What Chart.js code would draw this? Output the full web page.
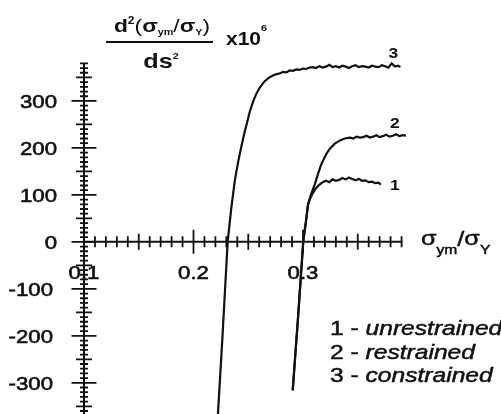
<!DOCTYPE html>
<html>
<head>
<meta charset="utf-8">
<script src="https://cdn.jsdelivr.net/npm/chart.js@4/dist/chart.umd.min.js"></script>
<style>
  body { margin: 0; background: #fff; }
  #chart { display: block; }
</style>
</head>
<body>
<canvas id="chart" width="501" height="414"></canvas>
<script>
// curve 1 - unrestrained
const unrestrainedX = [0.2906, 0.2955, 0.3003, 0.3025, 0.3046, 0.3065, 0.3085, 0.3115, 0.3145, 0.3180, 0.3210, 0.3240, 0.3270, 0.3300,
    0.333, 0.336, 0.339, 0.342, 0.345, 0.348, 0.351, 0.354, 0.357, 0.360, 0.363, 0.366, 0.369, 0.371];
const unrestrainedY = [-316, -160, 3, 40, 80, 92, 102, 113, 121, 127, 130, 127, 133, 130,
    132, 136, 133, 137, 134, 131, 134, 130, 131, 127, 128, 125, 126, 122];

// curve 2 - restrained
const restrainedX = [0.2906, 0.2955, 0.3003, 0.3025, 0.3046, 0.3075, 0.3110, 0.3140, 0.3170, 0.3210, 0.3247, 0.3290, 0.3338, 0.3370, 0.3400,
    0.343, 0.346, 0.349, 0.352, 0.355, 0.358, 0.361, 0.364, 0.367, 0.370, 0.373, 0.376, 0.379, 0.382, 0.385, 0.388, 0.391, 0.394];
const restrainedY = [-316, -160, 3, 40, 80, 102, 124, 147, 167, 186, 199, 209, 216, 219, 221,
    222, 220, 224, 222, 223, 226, 222, 224, 227, 223, 225, 228, 224, 226, 229, 225, 227, 226];

// curve 3 - constrained
const constrainedX = [0.2216, 0.2265, 0.2312, 0.2345, 0.2379, 0.2410, 0.2440, 0.2465, 0.2486, 0.2515, 0.2545, 0.2575, 0.2607, 0.2650, 0.2699, 0.2745,
    0.279, 0.282, 0.285, 0.288, 0.291, 0.294, 0.297, 0.300, 0.303, 0.306, 0.309, 0.312, 0.315, 0.318, 0.321, 0.324, 0.327, 0.330,
    0.333, 0.336, 0.339, 0.342, 0.345, 0.348, 0.351, 0.354, 0.357, 0.360, 0.363, 0.366, 0.369, 0.372, 0.375, 0.378, 0.381, 0.384, 0.387, 0.389];
const constrainedY = [-395, -200, 0, 72, 133, 173, 206, 232, 251, 278, 299, 316, 329, 342, 351, 356,
    359, 362, 361, 365, 364, 367, 366, 369, 368, 371, 372, 370, 374, 371, 373, 377, 372, 374,
    371, 375, 373, 370, 374, 376, 372, 374, 373, 371, 375, 373, 372, 376, 374, 371, 380, 373, 375, 372];

const seriesNames = ['unrestrained', 'restrained', 'constrained'];
const curveNumbers = ['1', '2', '3'];
const yTickLabels = [300, 200, 100, 0, -100, -200, -300];
const xTickLabels = [0.1, 0.2, 0.3];

const SX = 1.2;   // scanned figure is stretched horizontally
const INK = '#111';
const FACE = '"Liberation Sans", Arial, sans-serif';

function toPoints(xs, ys) {
    return xs.map((x, i) => ({ x: x, y: ys[i] }));
}

function textWidth(ctx, text, font) {
    ctx.font = font;
    return ctx.measureText(text).width * SX;
}

// draw a row of text runs: {t, font, dy}
function drawRuns(ctx, runs, x, y, align, heavy) {
    const total = runs.reduce((s, r) => s + textWidth(ctx, r.t, r.font), 0);
    let left = x;
    if (align === 'center') left = x - total / 2;
    else if (align === 'right') left = x - total;
    runs.forEach(r => {
        const w = textWidth(ctx, r.t, r.font);
        ctx.save();
        ctx.font = r.font;
        ctx.translate(left, y + (r.dy || 0));
        ctx.scale(SX, 1);
        ctx.textAlign = 'left';
        ctx.textBaseline = 'alphabetic';
        ctx.fillText(r.t, 0, 0);
        if (heavy) {
            ctx.strokeStyle = INK;
            ctx.lineWidth = heavy;
            ctx.strokeText(r.t, 0, 0);
        }
        ctx.restore();
        left += w;
    });
    return total;
}

const crossAxes = {
    id: 'crossAxes',
    beforeDatasetsDraw(chart) {
        const ctx = chart.ctx;
        const xs = chart.scales.x, ys = chart.scales.y;
        const ox = xs.getPixelForValue(0.1);
        const oy = ys.getPixelForValue(0);
        ctx.save();
        ctx.strokeStyle = INK;
        ctx.lineCap = 'butt';

        ctx.lineWidth = 2;
        ctx.beginPath();
        ctx.moveTo(ox, oy);
        ctx.lineTo(xs.getPixelForValue(0.39) + 1, oy);
        ctx.moveTo(ox, ys.getPixelForValue(381));
        ctx.lineTo(ox, chart.height);
        ctx.stroke();

        ctx.lineWidth = 1.8;
        ctx.beginPath();
        for (let i = 11; i <= 39; i++) {
            const px = xs.getPixelForValue(i / 100);
            const len = i % 10 === 0 ? 12 : (i % 5 === 0 ? 8 : 5.5);
            ctx.moveTo(px, oy - len);
            ctx.lineTo(px, oy + len);
        }
        for (let v = -370; v <= 380; v += 10) {
            const py = ys.getPixelForValue(v);
            const len = v % 100 === 0 ? 12.5 : (v % 50 === 0 ? 8 : 4);
            ctx.moveTo(ox - len, py);
            ctx.lineTo(ox + len, py);
        }
        ctx.stroke();
        ctx.restore();
    },
    afterDraw(chart) {
        const ctx = chart.ctx;
        const xs = chart.scales.x, ys = chart.scales.y;
        const ox = xs.getPixelForValue(0.1);
        const oy = ys.getPixelForValue(0);
        ctx.save();
        ctx.fillStyle = INK;
        const tickFont = '18.5px ' + FACE;

        yTickLabels.forEach(v => {
            const right = v < 0 ? ox - 31 : ox - 27;
            drawRuns(ctx, [{ t: String(v), font: tickFont }], right, ys.getPixelForValue(v) + 6.7, 'right', 0.6);
        });
        xTickLabels.forEach(v => {
            drawRuns(ctx, [{ t: v.toFixed(1), font: tickFont }], xs.getPixelForValue(v), oy + 37.5, 'center', 0.6);
        });

        // x axis title
        const big = '21px ' + FACE;
        const sub = '13px ' + FACE;
        drawRuns(ctx, [
            { t: 'σ', font: big },
            { t: 'ym', font: sub, dy: 9 },
            { t: '/', font: big, dy: 1 },
            { t: 'σ', font: big },
            { t: 'Y', font: sub, dy: 9 }
        ], 421, oy + 3, 'left', 0.5);

        // y axis title (fraction)
        drawRuns(ctx, [
            { t: 'd', font: 'bold 19px ' + FACE },
            { t: '2', font: 'bold 10px ' + FACE, dy: -8 },
            { t: '(', font: '19px ' + FACE },
            { t: 'σ', font: 'bold 19px ' + FACE },
            { t: 'ym', font: 'bold 9px ' + FACE, dy: 3 },
            { t: '/', font: '19px ' + FACE },
            { t: 'σ', font: 'bold 19px ' + FACE },
            { t: 'Y', font: 'bold 9px ' + FACE, dy: 3 },
            { t: ')', font: '19px ' + FACE }
        ], 162, 32, 'center');
        ctx.fillRect(106, 41, 107, 2);
        drawRuns(ctx, [
            { t: 'ds', font: 'bold 21px ' + FACE },
            { t: '2', font: 'bold 9px ' + FACE, dy: -9 }
        ], 161, 68, 'center');
        drawRuns(ctx, [
            { t: 'x10', font: 'bold 17.5px ' + FACE },
            { t: '6', font: 'bold 9px ' + FACE, dy: -14 }
        ], 226, 45, 'left');

        // curve numbers next to the curve ends
        const numOffsets = [[14, 5], [-11, -8], [-7, -9]];
        chart.data.datasets.forEach((ds, i) => {
            const last = ds.data[ds.data.length - 1];
            const px = xs.getPixelForValue(last.x) + numOffsets[i][0];
            const py = ys.getPixelForValue(last.y) + numOffsets[i][1];
            drawRuns(ctx, [{ t: curveNumbers[i], font: 'bold 14.5px ' + FACE }], px, py, 'center');
        });

        // legend text
        const lf = '20.5px ' + FACE;
        const li = 'italic 20.5px ' + FACE;
        seriesNames.forEach((name, i) => {
            drawRuns(ctx, [
                { t: curveNumbers[i] + ' - ', font: lf },
                { t: name, font: li }
            ], 330, 335 + i * 23.5, 'left', 0.5);
        });
        ctx.restore();
    }
};

const lineStyle = {
    borderColor: INK,
    borderWidth: 2.2,
    pointRadius: 0,
    tension: 0,
    fill: false,
    clip: false
};

new Chart(document.getElementById('chart'), {
    type: 'line',
    data: {
        datasets: [
            Object.assign({ label: seriesNames[0], data: toPoints(unrestrainedX, unrestrainedY) }, lineStyle),
            Object.assign({ label: seriesNames[1], data: toPoints(restrainedX, restrainedY) }, lineStyle),
            Object.assign({ label: seriesNames[2], data: toPoints(constrainedX, constrainedY) }, lineStyle)
        ]
    },
    options: {
        responsive: false,
        animation: false,
        layout: { padding: { left: 84, right: 88.5, top: 61, bottom: 3 } },
        plugins: { legend: { display: false }, tooltip: { enabled: false } },
        scales: {
            x: { type: 'linear', min: 0.1, max: 0.4, display: false },
            y: { type: 'linear', min: -360, max: 385, display: false }
        }
    },
    plugins: [crossAxes]
});
</script>
</body>
</html>
